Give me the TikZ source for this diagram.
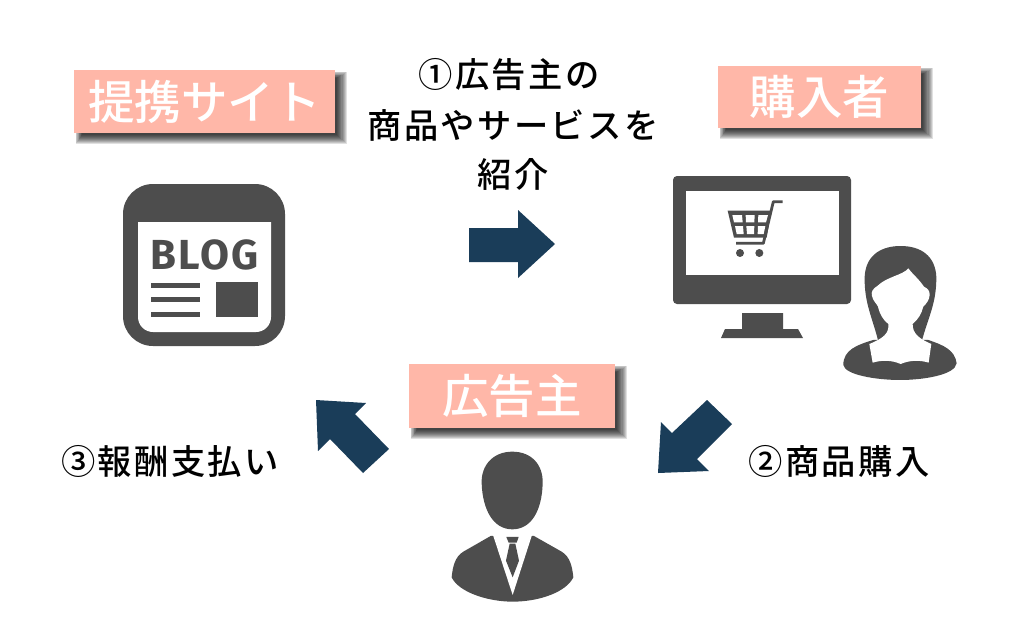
\documentclass[tikz,border=0pt]{standalone}
\usepackage{fontspec}
\setmainfont{Noto Sans CJK JP}
\newfontfamily\capfont[LetterSpace=7]{Noto Sans CJK JP Medium}
\newfontfamily\tagfont{Noto Sans CJK JP Medium}
\newfontfamily\blogfont[LetterSpace=5]{Fira Sans Bold}
\definecolor{ink}{HTML}{4D4D4D}
\definecolor{navy}{HTML}{1A3D59}
\definecolor{salmon}{HTML}{FFB7A8}
\tikzset{
  caption/.style={font=\capfont\fontsize{34.3}{40}\selectfont,text=black,inner sep=0pt},
  tag/.style={fill=salmon,text=white,font=\tagfont\fontsize{46.5}{50}\selectfont,inner sep=0pt,anchor=center},
  inkfill/.style={fill=ink,draw=none},
  whitefill/.style={fill=white,draw=none},
  navyfill/.style={fill=navy,draw=none},
  zoomB/.style={shift={(660,160)},x=0.3333pt,y=-0.3333pt},
  zoomC/.style={shift={(400,350)},x=0.3333pt,y=-0.3333pt}
}
\newcommand{\softshadow}[4]{%
  \foreach \g in {0,1,...,9}{
    \fill[black,opacity=0.12] (#1+8-\g*0.7,#2+8-\g*0.7) rectangle (#3+2+\g*1.1,#4+1.5+\g*1.0);
  }
}
\begin{document}
\begin{tikzpicture}[x=1pt,y=-1pt]
\useasboundingbox (0,0) rectangle (1024,641);
\fill[white] (0,0) rectangle (1024,641);

% shadows
\softshadow{74}{70}{335}{133}
\softshadow{718}{66}{921}{128}
\softshadow{409}{364}{615}{428}

% tags
\node[tag,minimum width=261pt,minimum height=63pt] (tagA) at (204.5,101.5) {提携サイト};
\node[tag,minimum width=203pt,minimum height=62pt] (tagB) at (819.5,97) {購入者};
\node[tag,minimum width=206pt,minimum height=64pt] (tagC) at (512,396) {広告主};

% captions
\node[caption] (capA) at (509,75) {①広告主の};
\node[caption] (capB) at (513,125) {商品やサービスを};
\node[caption] (capC) at (513,174) {紹介};
\node[caption] (capD) at (839,461) {②商品購入};
\node[caption] (capE) at (170,461) {③報酬支払い};

% blog icon
\fill[inkfill,rounded corners=30pt] (123,184) rectangle (285,346);
\fill[whitefill] (138,222) -- (271,222) -- (271,317) arc[start angle=0,end angle=90,x radius=15pt,y radius=-15pt] -- (153,332) arc[start angle=90,end angle=180,x radius=15pt,y radius=-15pt] -- cycle;
\node[text=ink,inner sep=0pt,font=\blogfont\fontsize{42}{42}\selectfont] (blog) at (205,254.5) {BLOG};
\fill[inkfill] (151,282.5) rectangle (200,287.5);
\fill[inkfill] (151,296.5) rectangle (200,301.5);
\fill[inkfill] (151,311.5) rectangle (200,316.5);
\fill[inkfill] (216,282) rectangle (258,317);

% monitor
\fill[inkfill,rounded corners=4pt] (673,176) rectangle (851,304);
\fill[whitefill] (686,191) rectangle (839,275);
\fill[inkfill] (742,313) -- (783,313) -- (783,329) -- (798,329) -- (803,338) -- (721,338) -- (725,329) -- (742,329) -- cycle;

\begin{scope}[zoomB]
  % cart
  \draw[ink,line width=2.8pt,line join=round] (368,125) -- (340,125) -- (310,250) -- (228,250);
  \fill[inkfill] (203,152) -- (334,152) -- (320,233) -- (222,233) -- cycle;
  \fill[whitefill] (217,165) -- (246,165) -- (248,187) -- (222,187) -- cycle;
  \fill[whitefill] (257,165) -- (284,165) -- (283,187) -- (258,187) -- cycle;
  \fill[whitefill] (295,165) -- (324,165) -- (318,187) -- (294,187) -- cycle;
  \fill[whitefill] (225,198) -- (249,198) -- (251,222) -- (230,222) -- cycle;
  \fill[whitefill] (259,198) -- (283,198) -- (282,222) -- (261,222) -- cycle;
  \fill[whitefill] (294,198) -- (316,198) -- (311,222) -- (293,222) -- cycle;
  \fill[inkfill] (240,279) circle[radius=12];
  \fill[inkfill] (298,279) circle[radius=12];
  % woman: hair
  \fill[inkfill] (655,545) .. controls (640,480) and (612,430) .. (614,350)
     .. controls (618,280) and (670,258) .. (722,258)
     .. controls (785,258) and (826,290) .. (829,350)
     .. controls (830,430) and (805,470) .. (785,545) -- cycle;
  % woman: body
  \fill[inkfill] (640,540) .. controls (590,555) and (550,570) .. (550,615)
     .. controls (555,645) and (650,660) .. (720,660)
     .. controls (790,660) and (885,645) .. (890,610)
     .. controls (885,570) and (850,555) .. (805,540) -- cycle;
  % woman: face, neck and collar
  \fill[whitefill] (745,325) .. controls (730,345) and (680,350) .. (652,378)
     .. controls (640,385) and (632,395) .. (636,408)
     .. controls (640,425) and (650,430) .. (654,440)
     .. controls (660,465) and (670,480) .. (685,492)
     .. controls (688,520) and (670,535) .. (628,552)
     -- (638,608) .. controls (665,600) and (695,600) .. (722,612)
     .. controls (750,600) and (780,600) .. (806,608)
     -- (814,552) .. controls (775,535) and (758,520) .. (758,492)
     .. controls (775,478) and (785,460) .. (790,440)
     .. controls (800,430) and (808,420) .. (809,405)
     .. controls (810,392) and (802,385) .. (792,380)
     .. controls (775,355) and (760,345) .. (745,325) -- cycle;
\end{scope}

\begin{scope}[zoomC]
  % man: head
  \fill[inkfill] (337,305) .. controls (395,305) and (430,345) .. (428,400)
     .. controls (426,480) and (395,538) .. (337,538)
     .. controls (280,538) and (248,480) .. (245,400)
     .. controls (243,345) and (280,305) .. (337,305) -- cycle;
  % man: body
  \fill[inkfill] (272,558) -- (190,605) .. controls (165,620) and (158,650) .. (155,682)
     .. controls (175,725) and (260,755) .. (338,755)
     .. controls (420,755) and (500,725) .. (520,682)
     .. controls (517,650) and (510,620) .. (485,605) -- (402,558) -- cycle;
  % man: shirt
  \fill[whitefill] (278,552) -- (338,735) -- (397,552) -- cycle;
  % man: tie
  \fill[inkfill] (319,561) -- (356,561) -- (350,578) -- (326,578) -- cycle;
  \fill[inkfill] (329,581) -- (346,581) -- (357,632) -- (338,682) -- (318,632) -- cycle;
\end{scope}

% block arrows
\fill[navyfill] (469,228) -- (518,228) -- (518,210) -- (555,244) -- (518,278) -- (518,262) -- (469,262) -- cycle;
\fill[navyfill] (316,400) -- (366,403) -- (355,414) -- (389,449) -- (363,473) -- (330,439) -- (318,451) -- cycle;
\fill[navyfill] (658,473) -- (661,422) -- (672,433) -- (707,400) -- (732,424) -- (697,459) -- (709,471) -- cycle;
\end{tikzpicture}
\end{document}
